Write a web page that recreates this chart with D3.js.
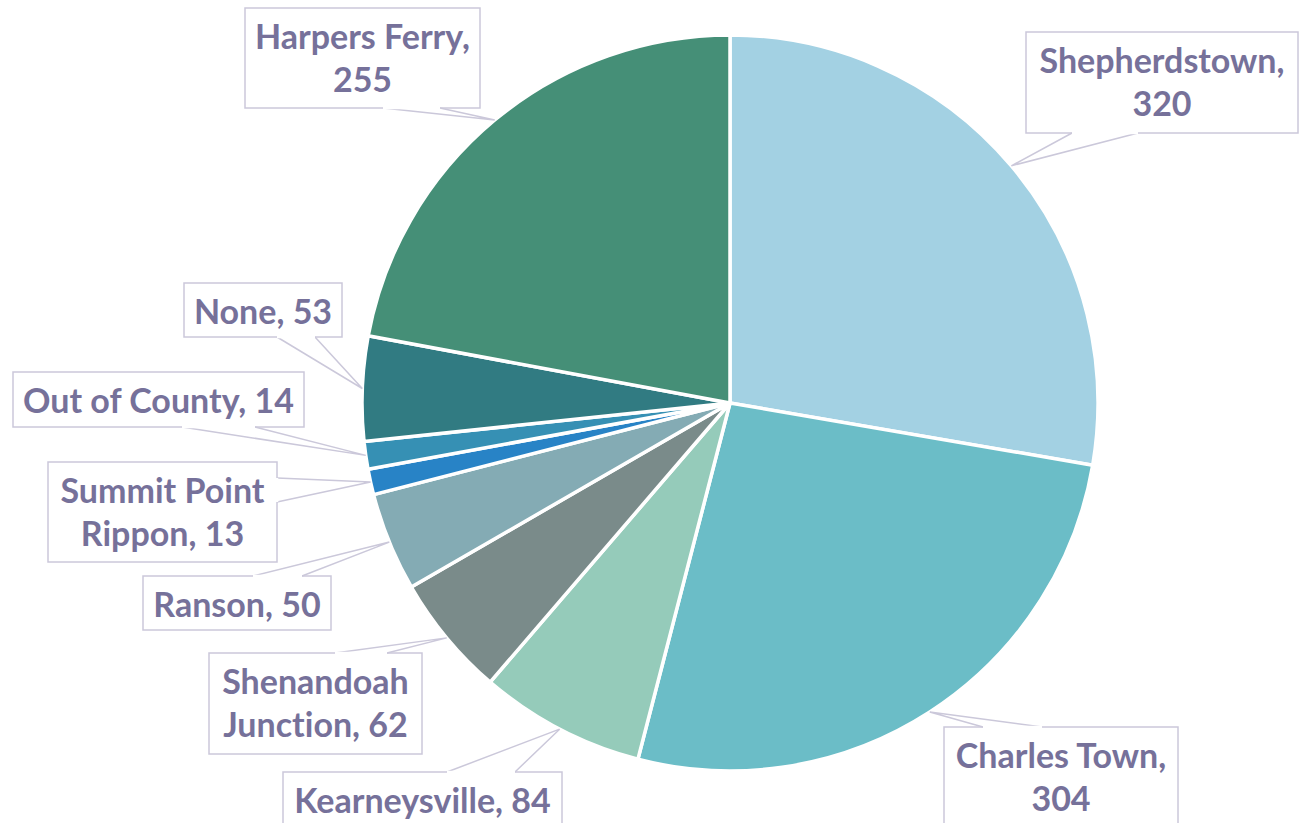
<!DOCTYPE html>
<html><head><meta charset="utf-8">
<script src="https://cdn.jsdelivr.net/npm/d3@7"></script>
<style>html,body{margin:0;padding:0;background:#fff;}svg{display:block;}text{font-variant-ligatures:none;font-feature-settings:"liga" 0,"dlig" 0;}</style>
</head><body>
<svg id="chart" width="1299" height="823"></svg>
<script>
// Data
const categories = ["Shepherdstown", "Charles Town", "Kearneysville", "Shenandoah Junction", "Ranson", "Summit Point Rippon", "Out of County", "None", "Harpers Ferry"];
const values = [320, 304, 84, 62, 50, 13, 14, 53, 255];
const labelLines = [["Shepherdstown,", "320"], ["Charles Town,", "304"], ["Kearneysville, 84"], ["Shenandoah", "Junction, 62"], ["Ranson, 50"], ["Summit Point", "Rippon, 13"], ["Out of County, 14"], ["None, 53"], ["Harpers Ferry,", "255"]];
const colors = ["#a3d1e3", "#6bbdc7", "#95cbba", "#7a8b8a", "#84abb4", "#2883c6", "#3690b4", "#317b82", "#458f77"];

// Layout of callout boxes: [left, top, width, height, side, base1, base2]
const boxes = [
  [1026, 32, 272, 101, "bottom", 1072, 1138],
  [944, 727, 234, 101, "top", 983, 1042],
  [283, 772, 279, 54, "top", 447, 515],
  [209, 653, 213, 101, "top", 335, 387],
  [143, 576, 188, 54, "top", 253, 302],
  [48, 462, 229, 100, "right", 478, 502],
  [13, 372, 291, 55, "bottom", 182, 255],
  [184, 283, 158, 54, "bottom", 277, 315],
  [245, 8, 235, 100, "bottom", 383, 440]
];

const svg = d3.select("#chart");
const cx = 730, cy = 403, r = 368;
const data = categories.map((c, i) => ({name: c, value: values[i], lines: labelLines[i], color: colors[i], box: boxes[i]}));

const pie = d3.pie().sort(null).value(d => d.value);
const arcs = pie(data);
const arc = d3.arc().innerRadius(0).outerRadius(r);

const g = svg.append("g").attr("transform", `translate(${cx},${cy})`);
g.selectAll("path").data(arcs).enter().append("path")
  .attr("d", arc)
  .attr("fill", d => d.data.color)
  .attr("stroke", "#ffffff")
  .attr("stroke-width", 3.5)
  .attr("stroke-linejoin", "round");

const boxStroke = "#cbc8da", textColor = "#76719a";
const lg = svg.append("g");
arcs.forEach(a => {
  const mid = (a.startAngle + a.endAngle) / 2;
  const px = cx + r * Math.sin(mid), py = cy - r * Math.cos(mid);
  const [bx, by, bw, bh, side, b1, b2] = a.data.box;
  let p1, p2;
  if (side === "bottom") { p1 = [b1, by + bh]; p2 = [b2, by + bh]; }
  else if (side === "top") { p1 = [b1, by]; p2 = [b2, by]; }
  else { p1 = [bx + bw, b1]; p2 = [bx + bw, b2]; }
  lg.append("rect").attr("x", bx).attr("y", by).attr("width", bw).attr("height", bh)
    .attr("fill", "#fff").attr("stroke", boxStroke).attr("stroke-width", 1.5);
  lg.append("path").attr("d", `M${p1[0]},${p1[1]}L${px},${py}L${p2[0]},${p2[1]}`)
    .attr("fill", "#fff").attr("stroke", boxStroke).attr("stroke-width", 1.5);
  lg.append("line").attr("x1", p1[0]).attr("y1", p1[1]).attr("x2", p2[0]).attr("y2", p2[1])
    .attr("stroke", "#fff").attr("stroke-width", 2.5);
  const t = lg.append("text").attr("text-anchor", "middle")
    .attr("font-family", "Lato, 'Open Sans', sans-serif").attr("font-weight", "bold")
    .attr("font-size", 34).attr("fill", textColor);
  a.data.lines.forEach((ln, i) => {
    t.append("tspan").attr("x", bx + bw / 2).attr("y", by + 41 + i * 43).text(ln);
  });
});
</script>
</body></html>
